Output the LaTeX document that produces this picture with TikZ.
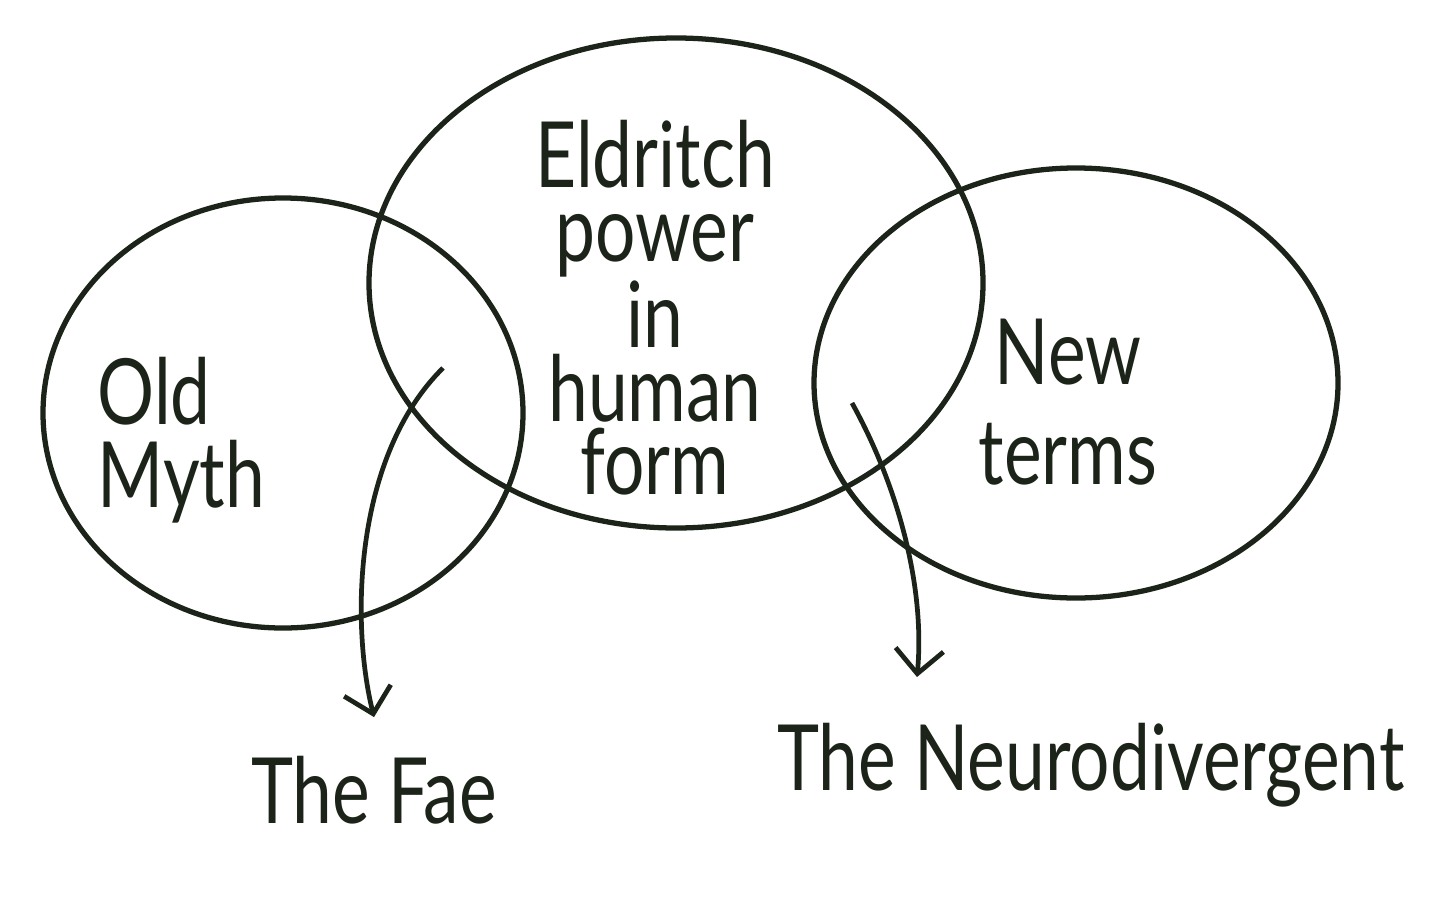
\documentclass[tikz,border=0pt]{standalone}
\usepackage{fontspec}
\setmainfont[FakeStretch=0.78]{Lato}
\usetikzlibrary{arrows.meta, positioning, calc}
\definecolor{ink}{HTML}{1C241A}

\begin{document}
\begin{tikzpicture}[
    line width = 1.5pt,
    ink,
    every node/.style={text=ink, inner sep=0pt},
    hand/.style={font=\fontsize{26}{#1}\selectfont},
    hand/.default=24,
    pointer/.style={-{Straight Barb[length=2.4mm, width=4.8mm]}, line width=1.35pt}
    ]

    % Determines the boundries
    \path[use as bounding box, fill=white] (0,0) rectangle (14.56,-9.01);

    % Radii of the sets
    \def\rxO{2.40}  \def\ryO{2.15}
    \def\rxE{3.07}  \def\ryE{2.45}
    \def\rxN{2.62}  \def\ryN{2.15}

    % Centers of the sets
    \coordinate (OM) at (2.83,-4.13);
    \coordinate (EP) at (6.76,-2.83);
    \coordinate (NT) at (10.76,-3.83);

    % Draws the sets
    \draw (OM) ellipse [x radius=\rxO, y radius=\ryO];
    \draw (EP) ellipse [x radius=\rxE, y radius=\ryE];
    \draw (NT) ellipse [x radius=\rxN, y radius=\ryN];

    % Labels of the sets
    \node (Old)   [hand=23.5, align=left, anchor=west] at (0.95,-4.40) {Old\\Myth};
    \node (Eld)   [hand=21, align=center] at (6.55,-3.08) {Eldritch\\power\\in\\human\\form};
    \node (New)   [hand=28.5, align=center] at (10.68,-4.02) {New\\terms};

    % Labels of the overlaps
    \node (Fae)   [hand, anchor=base] at (3.74,-8.23) {The Fae};
    \node (Neuro) [hand, anchor=base] at (10.91,-7.90) {The Neurodivergent};

    % Ends of the pointers
    \coordinate (FS) at (4.43,-3.68);
    \coordinate (FE) at ([yshift=3.6mm]Fae.north);
    \coordinate (NS) at (8.52,-4.03);
    \coordinate (NE) at (9.17,-6.77);

    % Pointers from the overlaps
    \draw[pointer] (FS) .. controls (3.55,-4.55) and (3.50,-6.20) .. (FE);
    \draw[pointer] (NS) .. controls (9.00,-4.90) and (9.25,-5.90) .. (NE);
\end{tikzpicture}
\end{document}
